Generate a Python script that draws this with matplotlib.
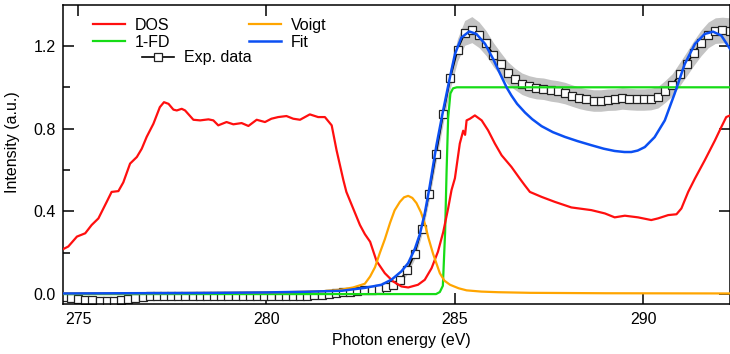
import numpy as np
import matplotlib
matplotlib.use('Agg')
from matplotlib import pyplot as plt
from matplotlib.ticker import MultipleLocator, FormatStrFormatter

plt.rcParams['font.family'] = ['Liberation Sans', 'DejaVu Sans']

# DOS (red)
dos_x = [274.61, 274.74, 274.97, 275.19, 275.36, 275.54, 275.76, 275.89, 276.07, 276.2,
         276.38, 276.56, 276.69, 276.82, 277.0, 277.17, 277.28, 277.40, 277.53, 277.62,
         277.75, 277.84, 278.06, 278.24, 278.46, 278.59, 278.72, 278.94, 279.12, 279.34,
         279.52, 279.74, 279.96, 280.13, 280.31, 280.53, 280.71, 280.89, 281.15, 281.37,
         281.55, 281.73, 281.86, 282.04, 282.12, 282.3, 282.48, 282.61, 282.75, 282.92,
         283.14, 283.36, 283.58, 283.76, 284.02, 284.2, 284.38, 284.55, 284.69, 284.82,
         284.91, 285.0, 285.13, 285.22, 285.27, 285.31, 285.4, 285.53, 285.71, 285.88,
         286.06, 286.24, 286.5, 286.72, 286.85, 286.99, 287.3, 287.65, 288.09, 288.62,
         288.98, 289.24, 289.51, 289.86, 290.21, 290.39, 290.66, 290.88, 291.01, 291.19,
         291.37, 291.63, 291.9, 292.07, 292.2, 292.3]
dos_y = [0.218, 0.23, 0.278, 0.294, 0.334, 0.366, 0.446, 0.494, 0.498, 0.54,
         0.631, 0.663, 0.703, 0.76, 0.824, 0.904, 0.928, 0.92, 0.892, 0.888,
         0.896, 0.888, 0.843, 0.84, 0.845, 0.84, 0.816, 0.832, 0.821, 0.827,
         0.813, 0.843, 0.832, 0.848, 0.856, 0.861, 0.848, 0.843, 0.869, 0.856,
         0.856, 0.816, 0.695, 0.551, 0.494, 0.414, 0.334, 0.29, 0.253, 0.16,
         0.101, 0.061, 0.037, 0.032, 0.045, 0.069, 0.125, 0.205, 0.30, 0.414,
         0.503, 0.56, 0.728, 0.79, 0.77, 0.84, 0.848, 0.864, 0.84, 0.792,
         0.728, 0.671, 0.615, 0.559, 0.527, 0.494, 0.47, 0.446, 0.419, 0.406,
         0.39, 0.371, 0.379, 0.371, 0.358, 0.366, 0.382, 0.386, 0.414, 0.494,
         0.559, 0.647, 0.743, 0.808, 0.856, 0.864]

# 1-FD (green)
fd_x = [274.6, 284.5, 284.6, 284.68, 284.74, 284.78, 284.82, 284.88, 284.95, 285.05, 292.3]
fd_y = [0.0, 0.0, 0.01, 0.04, 0.3, 0.6, 0.85, 0.97, 0.995, 1.0, 1.0]

# Voigt (orange)
voigt_x = [274.6, 277.0, 279.0, 280.5, 281.5, 282.0, 282.3, 282.61, 282.75, 282.88,
           283.01, 283.14, 283.28, 283.4, 283.54, 283.65, 283.76, 283.87, 283.98, 284.1,
           284.2, 284.3, 284.42, 284.6, 284.72, 284.87, 285.1, 285.31, 285.7, 286.15,
           287.0, 289.0, 292.3]
voigt_y = [0.003, 0.004, 0.006, 0.009, 0.014, 0.022, 0.032, 0.05, 0.085, 0.13,
           0.2, 0.265, 0.345, 0.405, 0.446, 0.468, 0.475, 0.465, 0.44, 0.395,
           0.342, 0.27, 0.195, 0.101, 0.065, 0.045, 0.028, 0.018, 0.012, 0.009,
           0.006, 0.004, 0.003]

# Fit (blue)
fit_x = [274.6, 278.0, 280.0, 281.0, 282.0, 282.61, 283.05, 283.32, 283.58, 283.76,
         283.94, 284.07, 284.2, 284.33, 284.51, 284.69, 284.87, 285.0, 285.17, 285.38,
         285.57, 285.8, 286.02, 286.2, 286.37, 286.5, 286.65, 286.86, 287.05, 287.3,
         287.6, 287.92, 288.25, 288.62, 288.95, 289.24, 289.5, 289.68, 289.85, 290.04,
         290.3, 290.57, 290.83, 291.1, 291.37, 291.63, 291.85, 292.07, 292.3]
fit_y = [0.003, 0.005, 0.008, 0.011, 0.016, 0.03, 0.045, 0.07, 0.11, 0.15,
         0.22, 0.29, 0.39, 0.52, 0.72, 0.89, 1.05, 1.16, 1.24, 1.27,
         1.258, 1.21, 1.135, 1.065, 1.0, 0.96, 0.92, 0.878, 0.846, 0.812,
         0.783, 0.76, 0.74, 0.72, 0.703, 0.692, 0.687, 0.687, 0.694, 0.711,
         0.759, 0.84, 0.969, 1.113, 1.21, 1.258, 1.269, 1.25, 1.186]

# Exp. data (squares) on an even energy grid
exp_x = np.linspace(274.62, 292.29, 94)
exp_y = [-0.015, -0.018, -0.022, -0.027, -0.031, -0.034, -0.035, -0.034, -0.031, -0.025,
         -0.018, -0.012, -0.009, -0.008, -0.008, -0.008, -0.008, -0.008, -0.008, -0.008,
         -0.008, -0.008, -0.008, -0.008, -0.008, -0.008, -0.008, -0.008, -0.008, -0.008,
         -0.008, -0.008, -0.008, -0.008, -0.007, -0.006, -0.004, 0.0, 0.006, 0.01,
         0.012, 0.016, 0.019, 0.022, 0.026, 0.033, 0.045, 0.069, 0.117, 0.194,
         0.315, 0.483, 0.678, 0.872, 1.046, 1.181, 1.263, 1.279, 1.254, 1.213,
         1.158, 1.113, 1.07, 1.041, 1.017, 1.004, 0.996, 0.993, 0.985, 0.98,
         0.972, 0.96, 0.949, 0.941, 0.936, 0.936, 0.94, 0.941, 0.946, 0.943,
         0.941, 0.941, 0.943, 0.952, 0.98, 1.012, 1.062, 1.113, 1.166, 1.214,
         1.253, 1.274, 1.277, 1.274]
exp_err = ([0.008] * 45 +
           [0.01, 0.012, 0.015, 0.02, 0.025, 0.03, 0.035, 0.04, 0.045, 0.05,
            0.055, 0.06, 0.063, 0.062, 0.06, 0.058, 0.056, 0.054] +
           [0.052] * 21 +
           [0.053, 0.054, 0.056, 0.058, 0.06, 0.062, 0.062, 0.062, 0.062, 0.062])

exp_y = np.array(exp_y)
exp_err = np.array(exp_err)

fig = plt.figure(figsize=(7.3, 3.54), dpi=100)
ax = fig.add_axes([63 / 730, 50 / 354, 667 / 730, 299 / 354])

ax.fill_between(exp_x, exp_y - exp_err, exp_y + exp_err, color='#c4c4c4', lw=0, zorder=1)
exp_line, = ax.plot(exp_x, exp_y, color='black', lw=1.2, marker='s', ms=5.5,
                    mfc='white', mec='#222222', mew=0.9, zorder=2)
fd_line, = ax.plot(fd_x, fd_y, color='#16dc16', lw=1.6, zorder=3)
dos_line, = ax.plot(dos_x, dos_y, color='#ff0f0f', lw=1.6, zorder=4)
voigt_line, = ax.plot(voigt_x, voigt_y, color='#ffa500', lw=1.6, zorder=5)
fit_line, = ax.plot(fit_x, fit_y, color='#0b4ff2', lw=1.8, zorder=6)

ax.set_xlim(274.6, 292.3)
ax.set_ylim(-0.048, 1.398)

fs = 11.5
ax.xaxis.set_major_locator(MultipleLocator(5))
ax.yaxis.set_major_locator(MultipleLocator(0.4))
ax.yaxis.set_minor_locator(MultipleLocator(0.2))
ax.yaxis.set_major_formatter(FormatStrFormatter('%.1f'))
ax.tick_params(axis='both', which='major', direction='in', length=8, width=1.1,
               labelsize=fs, top=True, right=True)
ax.tick_params(axis='x', which='major', pad=6)
ax.tick_params(axis='y', which='major', pad=5)
ax.tick_params(axis='y', which='minor', direction='in', length=5, width=1.1,
               left=True, right=False)
for s in ax.spines.values():
    s.set_linewidth(1.1)

ax.set_xlabel('Photon energy (eV)', fontsize=fs)
ax.set_ylabel('Intensity (a.u.)', fontsize=fs)
ax.xaxis.set_label_coords(0.508, -0.097)
ax.yaxis.set_label_coords(-0.064, 0.54)

leg_kw = dict(frameon=False, fontsize=fs, borderpad=0, borderaxespad=0,
              handlelength=2.0, handletextpad=0.62, labelspacing=0.15, loc='upper left')
leg1 = ax.legend([dos_line, fd_line], ['DOS', '1-FD'], bbox_to_anchor=(0.045, 0.958), **leg_kw)
ax.add_artist(leg1)
leg2 = ax.legend([voigt_line, fit_line], ['Voigt', 'Fit'], bbox_to_anchor=(0.279, 0.958), **leg_kw)
ax.add_artist(leg2)
ax.legend([exp_line], ['Exp. data'], bbox_to_anchor=(0.118, 0.848), numpoints=1, **leg_kw)

fig.savefig('out.png', dpi=100)
